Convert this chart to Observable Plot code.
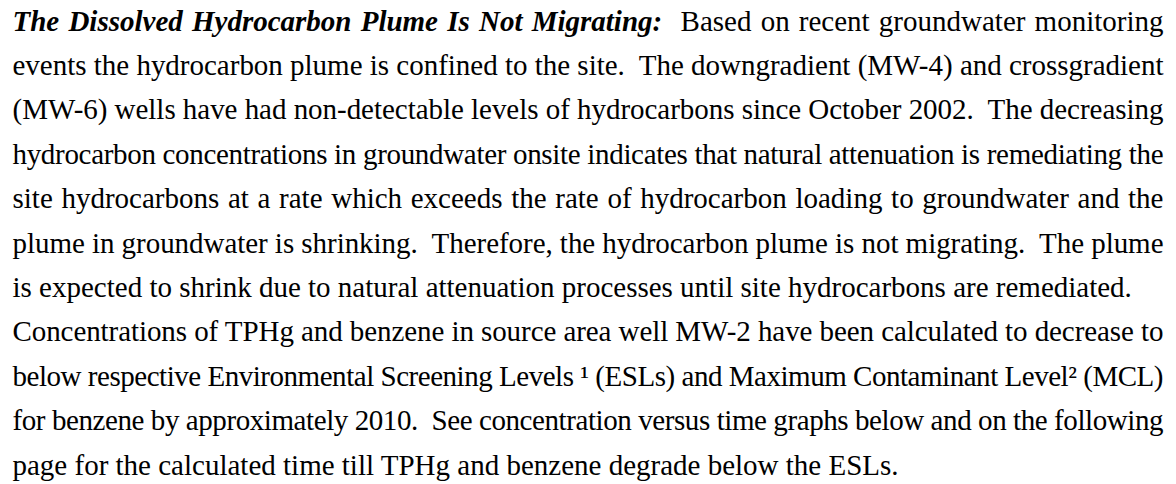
<!DOCTYPE html>
<html>
<head>
<meta charset="utf-8">
<script src="https://cdn.jsdelivr.net/npm/d3@7"></script>
<script src="https://cdn.jsdelivr.net/npm/@observablehq/plot@0.6"></script>
<style>
  html, body { margin: 0; padding: 0; background: #fff; }
  #chart svg text { white-space: pre; }
</style>
</head>
<body>
<div id="chart"></div>
<script>
// Paragraph content, one entry per printed line
const heading = "The Dissolved Hydrocarbon Plume Is Not Migrating:";
const lines = [
  "  Based on recent groundwater monitoring",
  "events the hydrocarbon plume is confined to the site.  The downgradient (MW-4) and crossgradient",
  "(MW-6) wells have had non-detectable levels of hydrocarbons since October 2002.  The decreasing",
  "hydrocarbon concentrations in groundwater onsite indicates that natural attenuation is remediating the",
  "site hydrocarbons at a rate which exceeds the rate of hydrocarbon loading to groundwater and the",
  "plume in groundwater is shrinking.  Therefore, the hydrocarbon plume is not migrating.  The plume",
  "is expected to shrink due to natural attenuation processes until site hydrocarbons are remediated.",
  "Concentrations of TPHg and benzene in source area well MW-2 have been calculated to decrease to",
  "below respective Environmental Screening Levels \u00B9 (ESLs) and Maximum Contaminant Level\u00B2 (MCL)",
  "for benzene by approximately 2010.  See concentration versus time graphs below and on the following",
  "page for the calculated time till TPHg and benzene degrade below the ESLs."
];
const justified = [true, true, true, true, true, true, false, true, true, true, false];

const W = 1176, H = 484;
const fontFamily = "'Liberation Serif', 'Times New Roman', Times, serif";
const fontSize = 29;
const left = 12, right = 1163;

const rows = lines.map((t, i) => ({i, text: i === 0 ? heading + t : t}));

const chart = Plot.plot({
  width: W,
  height: H,
  margin: 0,
  marginLeft: left,
  marginRight: W - right,
  style: {background: "#fff", fontFamily, fontSize: fontSize + "px", color: "#000"},
  x: {domain: [0, 1], axis: null},
  y: {domain: [0, lines.length - 1], range: [30, 474], axis: null},
  marks: [
    Plot.text(rows, {
      x: () => 0,
      y: "i",
      text: "text",
      textAnchor: "start",
      lineAnchor: "bottom",
      fill: "#000",
      fontSize: fontSize
    })
  ]
});
document.getElementById("chart").appendChild(chart);

// Mixed styling for the lead-in heading, and full justification of lines
const texts = chart.querySelectorAll("g[aria-label=text] text");
texts.forEach((el, k) => {
  el.setAttribute("xml:space", "preserve");
  if (k === 0) {
    const rest = el.textContent.slice(heading.length);
    el.textContent = "";
    const ns = "http://www.w3.org/2000/svg";
    const a = document.createElementNS(ns, "tspan");
    a.setAttribute("font-weight", "bold");
    a.setAttribute("font-style", "italic");
    a.textContent = heading;
    const b = document.createElementNS(ns, "tspan");
    b.textContent = rest;
    el.appendChild(a); el.appendChild(b);
  }
  if (justified[k]) {
    const natural = el.getComputedTextLength();
    const spaces = (el.textContent.match(/ /g) || []).length;
    const target = right - left;
    const extra = (target - natural) / spaces;
    if (extra >= 0) {
      el.style.wordSpacing = extra + "px";
      const now = el.getComputedTextLength();
      if (Math.abs(now - target) > 3) {
        el.style.wordSpacing = "";
        el.setAttribute("textLength", target);
        el.setAttribute("lengthAdjust", "spacing");
      }
    } else {
      // Slightly too long: tighten evenly across all characters
      el.setAttribute("textLength", target);
      el.setAttribute("lengthAdjust", "spacing");
    }
  }
});
</script>
</body>
</html>
